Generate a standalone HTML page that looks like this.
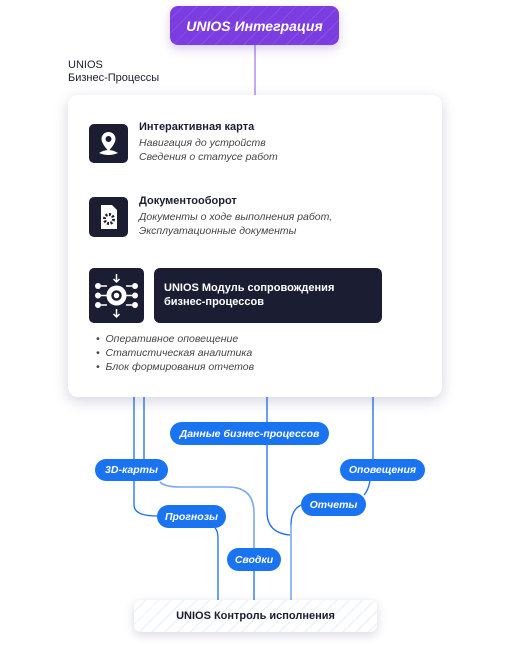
<!DOCTYPE html>
<html><head><meta charset="utf-8"><style>
*{margin:0;padding:0;box-sizing:border-box}
body{width:510px;height:646px;background:#fff;position:relative;overflow:hidden;font-family:"Liberation Sans","DejaVu Sans",sans-serif;color:#1b1e33}
.a{position:absolute}
.card{left:68px;top:95px;width:374px;height:302px;background:#fff;border-radius:10px;box-shadow:0 4px 14px rgba(60,60,110,.22)}
.top{left:170px;top:6px;width:169px;height:39px;border-radius:8px;background:repeating-linear-gradient(135deg,#7b3ce0 0 9px,#8750e6 9px 10px);color:#fff;font-style:italic;font-weight:bold;font-size:14px;display:flex;align-items:center;justify-content:center;box-shadow:0 4px 10px rgba(90,60,180,.25)}
.ic{background:#1b1e33;border-radius:5px}
.t{font-size:11px;font-weight:bold;color:#1b1e33}
.s{font-size:10.5px;font-style:italic;color:#444;line-height:14px}
.pill{background:#1a73f0;color:#fff;font-style:italic;font-weight:bold;font-size:10.5px;border-radius:12px;display:flex;align-items:center;justify-content:center}
.bot{left:134px;top:600px;width:243px;height:32px;border-radius:7px;background:repeating-linear-gradient(135deg,#fff 0 8px,#e4f0fb 8px 9px);box-shadow:0 3px 10px rgba(60,60,110,.2);font-size:11px;font-weight:bold;display:flex;align-items:center;justify-content:center}
</style></head><body>
<svg class="a" style="left:0;top:0" width="510" height="646">
<line x1="255" y1="45" x2="255" y2="95" stroke="#b38ce8" stroke-width="1.5"/>
<g fill="none" stroke="#1a6ef0" stroke-width="1.3">
<path d="M134 397V505q0 11 23 11"/>
<path d="M144 397V459"/>
<path d="M215 528q3 3 3 10V600"/>
<path d="M267 397V422M267 445V512q0 21 23 23"/>
<path d="M373 397V459M370 481q-2 10 -6 14"/>
<path d="M301 505q-10 5 -10 20"/>
<path d="M254 571V600"/>
</g>
<g fill="none" stroke="#7aaaf0" stroke-width="1.6">
<path d="M160 482q5 5 20 5H228q26 0 26 26V548"/>
<path d="M291 525V600"/>
</g>
<g fill="none" stroke="#6a6c80" stroke-width="1.5">
<path d="M325 129H408q13 0 13 13V285q0 12 -21 14"/>
<path d="M378 203H402q9 0 9 9V280q0 8 -11 9"/>
<path d="M329 125l-4 4 4 4M404 286l-4 3 4 3M404 296l-4 3 4 3M382 200l-4 3 4 3"/>
</g>
</svg>
<div class="a top">UNIOS Интеграция</div>
<div class="a" style="left:68px;top:59px;font-size:11px;line-height:13px">UNIOS<br>Бизнес-Процессы</div>
<div class="a card"></div>
<div class="a ic" style="left:89px;top:124px;width:39px;height:39px"><svg width="39" height="39"><path d="M19.5 8a7 7 0 0 0-7 7c0 5 7 12 7 12s7-7 7-12a7 7 0 0 0-7-7z" fill="#fff"/><circle cx="19.5" cy="15" r="3" fill="#1b1e33"/><path d="M10 29q9.5-6 19 0q-9.5 4-19 0" fill="#fff"/></svg></div>
<div class="a t" style="left:139px;top:121px">Интерактивная карта</div>
<div class="a s" style="left:139px;top:136px">Навигация до устройств<br>Сведения о статусе работ</div>
<div class="a ic" style="left:89px;top:197px;width:39px;height:40px"><svg width="39" height="40"><path d="M12 8h11l5 5v19H12z" fill="#fff"/><circle cx="20" cy="22" r="4.5" fill="none" stroke="#1b1e33" stroke-width="3" stroke-dasharray="2 1.5"/></svg></div>
<div class="a t" style="left:139px;top:195px">Документооборот</div>
<div class="a s" style="left:139px;top:210px">Документы о ходе выполнения работ,<br>Эксплуатационные документы</div>
<div class="a ic" style="left:89px;top:268px;width:55px;height:55px"><svg width="55" height="55"><circle cx="27.5" cy="27.5" r="10" fill="#fff"/><circle cx="27.5" cy="27.5" r="4" fill="none" stroke="#1b1e33" stroke-width="2.5"/><g fill="#fff"><circle cx="9" cy="18" r="3"/><circle cx="9" cy="27.5" r="3"/><circle cx="9" cy="37" r="3"/><circle cx="46" cy="18" r="3"/><circle cx="46" cy="27.5" r="3"/><circle cx="46" cy="37" r="3"/></g><path d="M12 18h6M12 27.5h6M12 37h6M37 18h6M37 27.5h6M37 37h6M27.5 6v8M24.5 11l3 3 3-3M27.5 41v8M24.5 46l3 3 3-3" stroke="#fff" stroke-width="1.5" fill="none"/></svg></div>
<div class="a" style="left:154px;top:268px;width:228px;height:55px;background:#1b1e33;border-radius:6px;color:#fff;font-size:11px;font-weight:bold;line-height:14px;padding:13px 0 0 10px">UNIOS Модуль сопровождения<br>бизнес-процессов</div>
<div class="a s" style="left:96px;top:332px">•&nbsp; Оперативное оповещение<br>•&nbsp; Статистическая аналитика<br>•&nbsp; Блок формирования отчетов</div>
<div class="a pill" style="left:170px;top:422px;width:159px;height:23px">Данные бизнес-процессов</div>
<div class="a pill" style="left:95px;top:459px;width:73px;height:22px">3D-карты</div>
<div class="a pill" style="left:340px;top:459px;width:85px;height:22px">Оповещения</div>
<div class="a pill" style="left:301px;top:493px;width:65px;height:23px">Отчеты</div>
<div class="a pill" style="left:157px;top:505px;width:69px;height:23px">Прогнозы</div>
<div class="a pill" style="left:227px;top:548px;width:54px;height:23px">Сводки</div>
<div class="a bot">UNIOS Контроль исполнения</div>
</body></html>
